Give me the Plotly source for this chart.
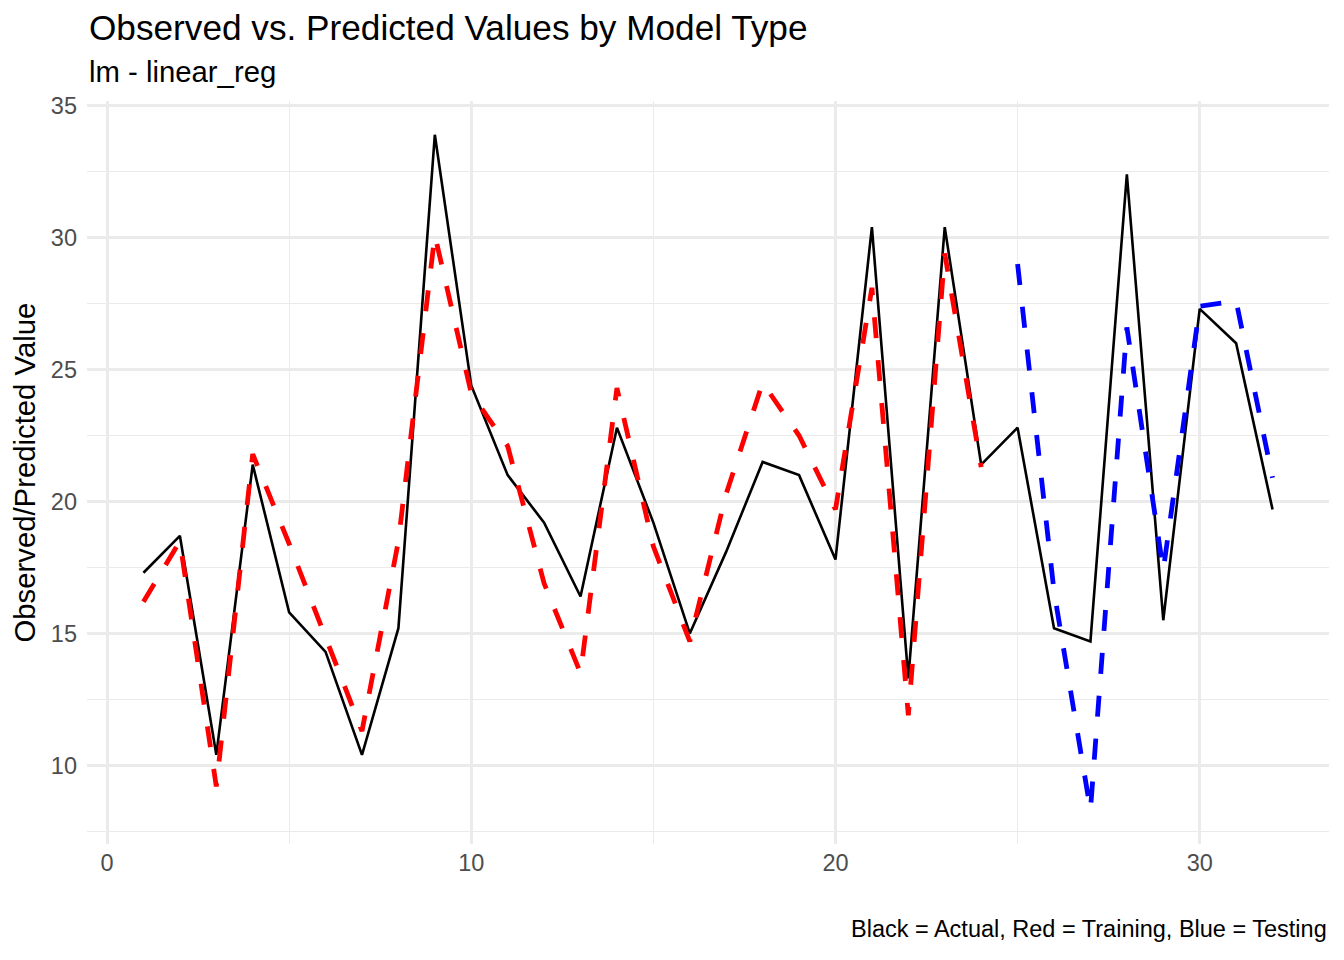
import plotly.graph_objects as go

# ---- data ----
obs_index = list(range(1, 33))
actual = [17.3, 18.7, 10.4, 21.4, 15.8, 14.3, 10.4, 15.2, 33.9, 24.4, 21.0, 19.2,
          16.4, 22.8, 19.2, 15.0, 18.1, 21.5, 21.0, 17.8, 30.4, 13.3, 30.4, 21.4,
          22.8, 15.2, 14.7, 32.4, 15.5, 27.3, 26.0, 19.7]
train_index = list(range(1, 25))
train_pred = [16.2, 18.5, 9.2, 21.8, 18.4, 14.8, 11.3, 18.5, 30.1, 24.1, 22.1, 16.9,
              13.5, 24.3, 18.3, 14.7, 20.3, 24.5, 22.5, 19.7, 28.1, 11.9, 29.4, 21.3]
test_index = list(range(25, 33))
test_pred = [29.0, 16.6, 8.3, 26.6, 17.4, 27.4, 27.6, 20.9]

x_ticks = [0, 10, 20, 30]
y_ticks = [10, 15, 20, 25, 30, 35]

title_text = "Observed vs. Predicted Values by Model Type"
subtitle_text = "lm - linear_reg"
caption_text = "Black = Actual, Red = Training, Blue = Testing"
y_title = "Observed/Predicted Value"

# ---- ranges with ggplot-like 5% expansion ----
all_x = obs_index
xmin, xmax = min(all_x), max(all_x)
xpad = (xmax - xmin) * 0.05
all_y = actual + train_pred + test_pred
ymin, ymax = min(all_y), max(all_y)
ypad = (ymax - ymin) * 0.05

FONT = "Liberation Sans, Arial, sans-serif"

fig = go.Figure()
fig.add_trace(go.Scatter(x=obs_index, y=actual, mode="lines",
                         line=dict(color="black", width=2.6), showlegend=False))
fig.add_trace(go.Scatter(x=train_index, y=train_pred, mode="lines",
                         line=dict(color="red", width=4.8, dash="21px,22px"),
                         showlegend=False))
fig.add_trace(go.Scatter(x=test_index, y=test_pred, mode="lines",
                         line=dict(color="blue", width=4.8, dash="21px,22px"),
                         showlegend=False))

grid_major = "#EBEBEB"
fig.update_layout(
    width=1336, height=952,
    paper_bgcolor="white", plot_bgcolor="white",
    margin=dict(l=79, r=15, t=93, b=116),
    font=dict(family=FONT, color="black"),
    xaxis=dict(range=[xmin - xpad, xmax + xpad], tickmode="array", tickvals=x_ticks,
               ticktext=[str(v) for v in x_ticks],
               showgrid=True, gridcolor=grid_major, gridwidth=2.8,
               zeroline=False, showline=False, ticks="",
               tickfont=dict(size=23.5, color="#4D4D4D", family=FONT),
               ticklabelstandoff=2,
               minor=dict(tickmode="array", tickvals=[5, 15, 25], showgrid=True,
                          gridcolor=grid_major, gridwidth=1.4)),
    yaxis=dict(range=[ymin - ypad, ymax + ypad], tickmode="array", tickvals=y_ticks,
               ticktext=[str(v) for v in y_ticks],
               showgrid=True, gridcolor=grid_major, gridwidth=2.8,
               zeroline=False, showline=False, ticks="",
               tickfont=dict(size=23.5, color="#4D4D4D", family=FONT),
               ticklabelstandoff=9,
               minor=dict(tickmode="array", tickvals=[7.5, 12.5, 17.5, 22.5, 27.5, 32.5],
                          showgrid=True, gridcolor=grid_major, gridwidth=1.4)),
    annotations=[
        dict(text=title_text, xref="paper", yref="paper", x=0.0, y=1.0987,
             xanchor="left", yanchor="middle", showarrow=False,
             font=dict(size=35.2, color="black", family=FONT)),
        dict(text=subtitle_text, xref="paper", yref="paper", x=0.0, y=1.0394,
             xanchor="left", yanchor="middle", showarrow=False,
             font=dict(size=29.3, color="black", family=FONT)),
        dict(text=caption_text, xref="paper", yref="paper", x=1.0, y=-0.1144,
             xanchor="right", yanchor="middle", showarrow=False,
             font=dict(size=23.5, color="black", family=FONT)),
        dict(text=y_title, xref="paper", yref="paper", x=-0.0507, y=0.5,
             xanchor="center", yanchor="middle", showarrow=False, textangle=-90,
             font=dict(size=29.3, color="black", family=FONT)),
    ],
)

fig.write_html("out.html")
